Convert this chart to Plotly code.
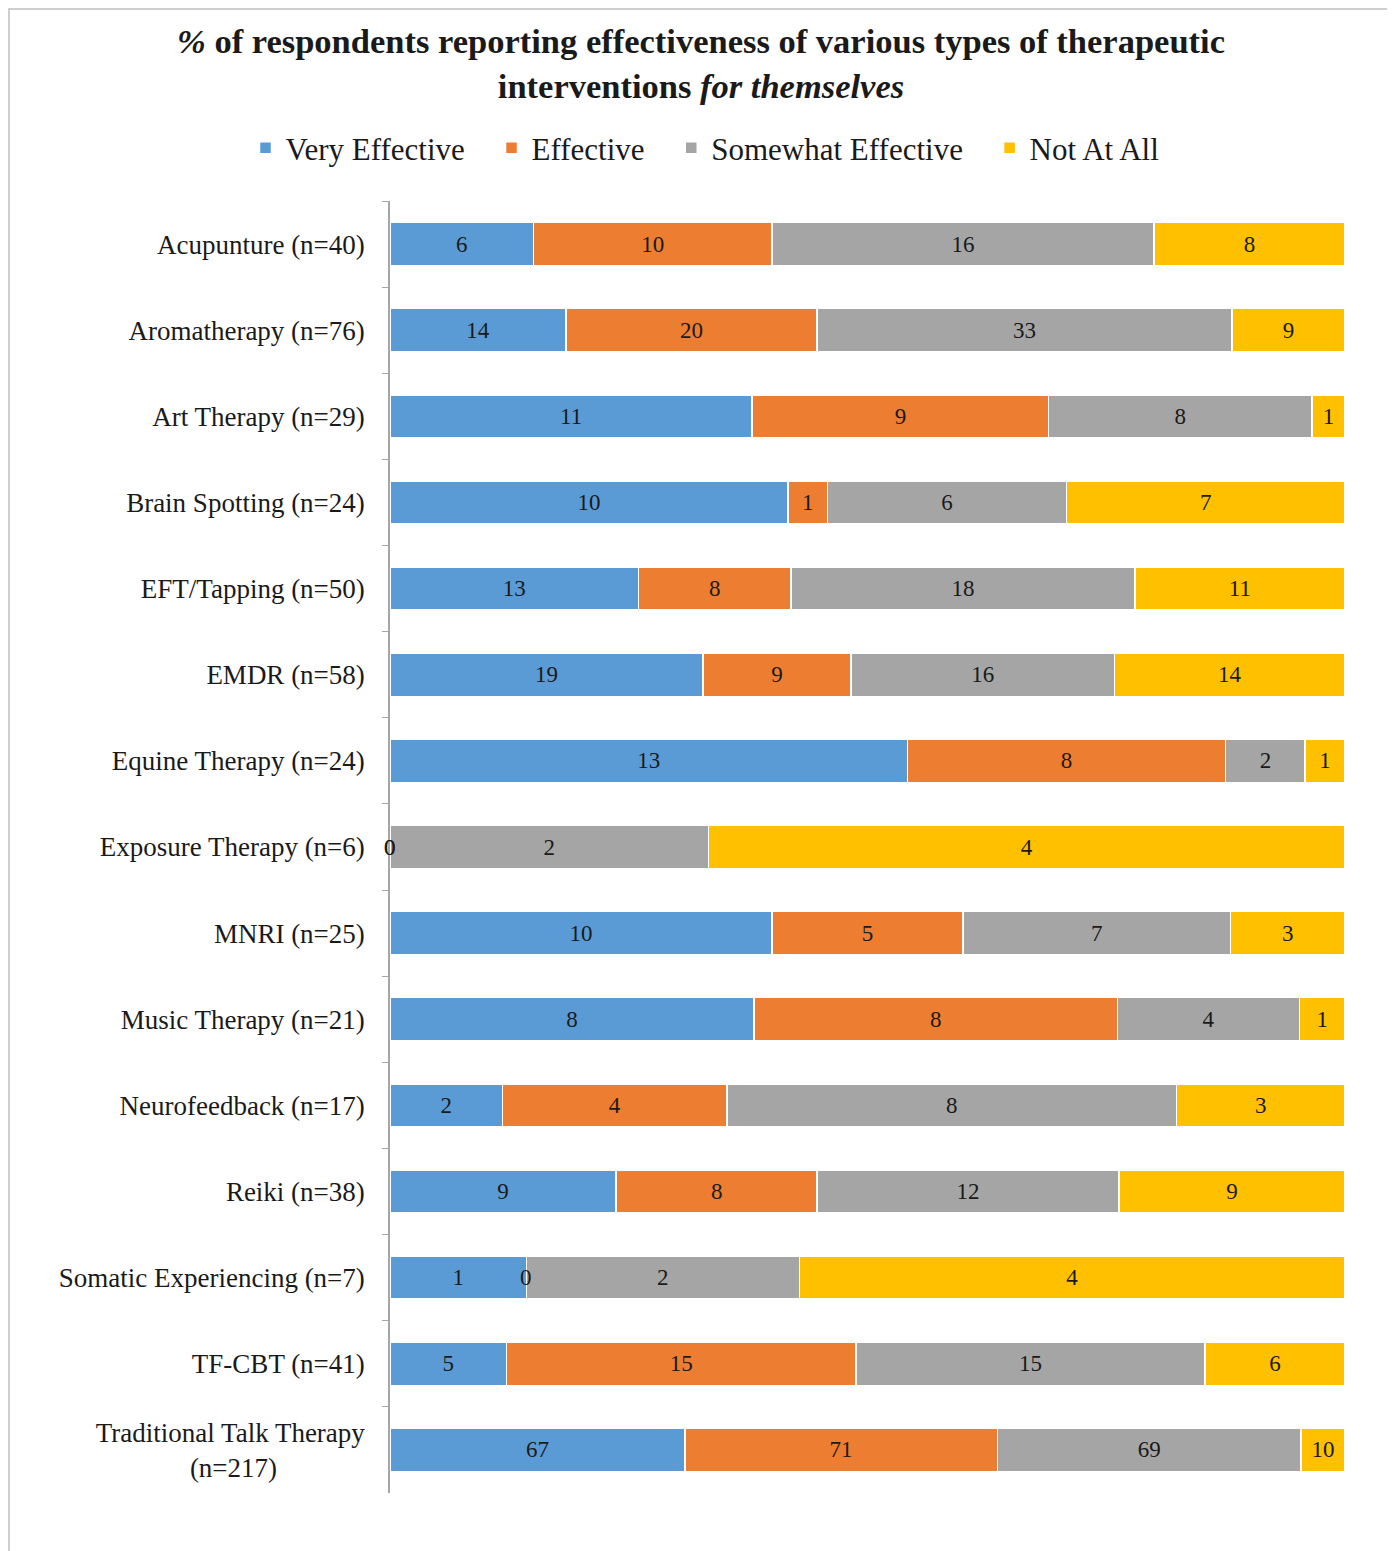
import plotly.graph_objects as go

categories = [
    "Acupunture (n=40)", "Aromatherapy (n=76)", "Art Therapy (n=29)",
    "Brain Spotting (n=24)", "EFT/Tapping (n=50)", "EMDR (n=58)",
    "Equine Therapy (n=24)", "Exposure Therapy (n=6)", "MNRI (n=25)",
    "Music Therapy (n=21)", "Neurofeedback (n=17)", "Reiki (n=38)",
    "Somatic Experiencing (n=7)", "TF-CBT (n=41)",
    "Traditional Talk Therapy<br>(n=217)" + "\u00a0" * 13,
]
very_effective = [6, 14, 11, 10, 13, 19, 13, 0, 10, 8, 2, 9, 1, 5, 67]
effective = [10, 20, 9, 1, 8, 9, 8, 0, 5, 8, 4, 8, 0, 15, 71]
somewhat_effective = [16, 33, 8, 6, 18, 16, 2, 2, 7, 4, 8, 12, 2, 15, 69]
not_at_all = [8, 9, 1, 7, 11, 14, 1, 4, 3, 1, 3, 9, 4, 6, 10]

series = [
    ("Very Effective", very_effective, "#5B9BD5"),
    ("Effective", effective, "#ED7D31"),
    ("Somewhat Effective", somewhat_effective, "#A5A5A5"),
    ("Not At All", not_at_all, "#FFC000"),
]

FONT = "Liberation Serif"
OFF = 8  # page body margin
W, H = 1395 - OFF, 1551 - OFF
L, R, T, B = 390 - OFF, 50, 201 - OFF, 58
pw, ph = W - L - R, H - T - B

fig = go.Figure()
for k, (name, vals, color) in enumerate(series):
    pad = "\u00a0\u00a0\u2009" if k < len(series) - 1 else ""
    fig.add_trace(go.Bar(
        name=name + pad, y=categories, x=vals, orientation="h",
        marker=dict(color=color, line=dict(color="white", width=1.5)),
        text=[str(v) if v else "" for v in vals],
        textposition="inside", insidetextanchor="middle",
        constraintext="none",
        textfont=dict(family=FONT, size=23, color="#1a1a1a"),
    ))

# labels for zero-width segments, placed at the segment boundary
totals = [sum(s[1][i] for s in series) for i in range(len(categories))]
annotations = []
for k, (name, vals, color) in enumerate(series):
    for i, v in enumerate(vals):
        if v == 0:
            before = sum(series[j][1][i] for j in range(k))
            annotations.append(dict(
                x=before / totals[i] * 100, y=categories[i], xref="x", yref="y",
                text="0", showarrow=False, xanchor="center",
                font=dict(family=FONT, size=23, color="#1a1a1a"),
            ))

fig.update_layout(
    width=W, height=H,
    barmode="stack", barnorm="percent", bargap=0.5,
    paper_bgcolor="white", plot_bgcolor="white",
    margin=dict(l=L, r=R, t=T, b=B),
    font=dict(family=FONT, color="#1a1a1a"),
    title=dict(
        text="<b><i>%</i> of respondents reporting effectiveness of various types of therapeutic"
             "<br>interventions <i>for themselves</i></b>",
        x=(701 - OFF) / W, xanchor="center", yref="container", y=1 - 45 / H, yanchor="top",
        font=dict(family=FONT, size=34.5, color="#1a1a1a"),
    ),
    legend=dict(
        orientation="h", x=(705 - 390) / pw, xanchor="center",
        y=1 + 53 / ph, yanchor="middle",
        font=dict(family=FONT, size=31, color="#1a1a1a"),
        itemwidth=30, traceorder="normal",
    ),
    xaxis=dict(range=[0, 100], visible=False, fixedrange=True),
    yaxis=dict(
        autorange="reversed", showline=True, linecolor="#A6A6A6", linewidth=1.5,
        ticks="outside", tickson="boundaries", ticklen=6, tickcolor="#A6A6A6",
        tickfont=dict(family=FONT, size=27, color="#1a1a1a"),
        ticklabelstandoff=18,
    ),
    annotations=annotations,
    shapes=[dict(
        type="rect", xref="paper", yref="paper",
        x0=(1 - L) / pw, x1=(1385 - L) / pw,
        y0=-(B + 20) / ph, y1=1 + (T - 1) / ph,
        line=dict(color="#BFBFBF", width=1.5), layer="below",
    )],
)

fig.write_html("out.html")
